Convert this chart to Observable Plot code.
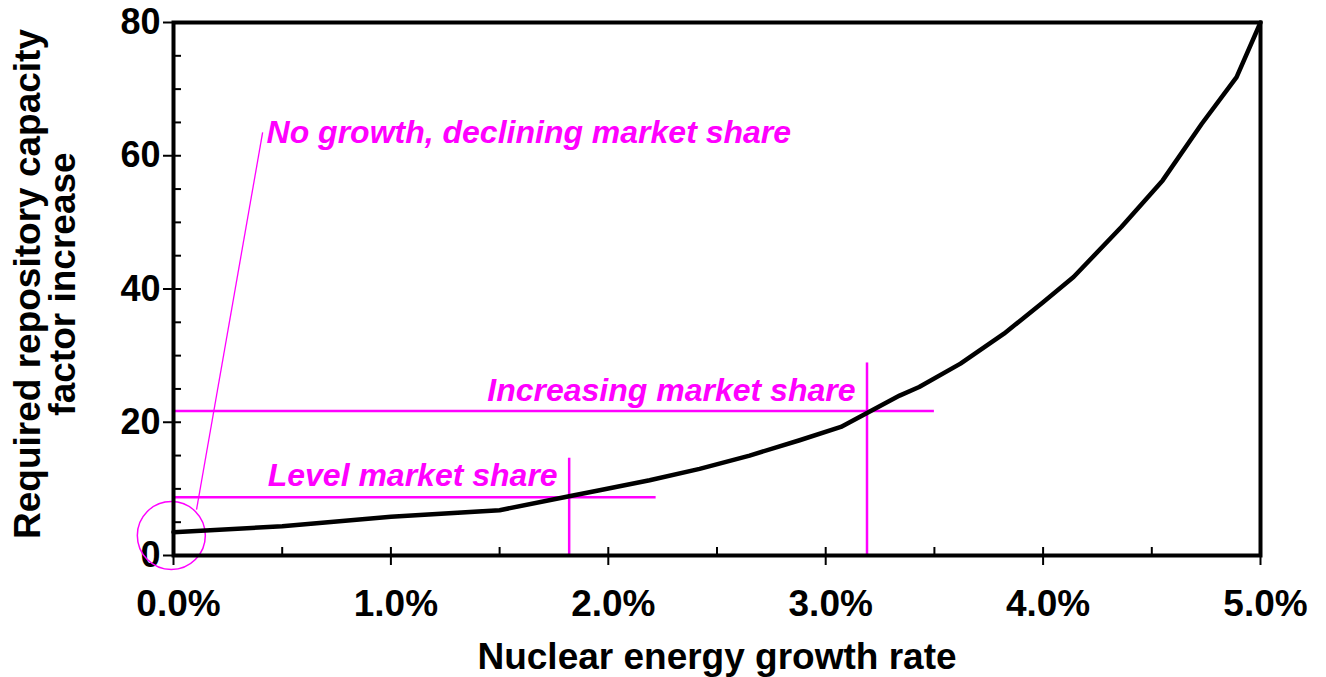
<!DOCTYPE html>
<html>
<head>
<meta charset="utf-8">
<script src="https://cdn.jsdelivr.net/npm/d3@7"></script>
<script src="https://cdn.jsdelivr.net/npm/@observablehq/plot@0.6"></script>
<style>
  html, body { margin: 0; padding: 0; background: #fff; }
  #chart { width: 1326px; height: 677px; }
</style>
</head>
<body>
<div id="chart"></div>
<script>
// Curve: required repository capacity factor vs. nuclear energy growth rate (%)
const growthRate = [0, 0.5, 1.0, 1.5, 1.82, 1.96, 2.19, 2.42, 2.65, 2.88, 3.07, 3.19, 3.34, 3.43, 3.62, 3.82, 4.0, 4.14, 4.36, 4.55, 4.73, 4.89, 5.0];
const capacityFactor = [3.5, 4.4, 5.8, 6.8, 8.9, 9.8, 11.3, 13.0, 15.0, 17.3, 19.3, 21.4, 24.0, 25.3, 28.8, 33.3, 38.0, 41.8, 49.3, 56.3, 64.8, 71.8, 80];

// Axis ticks
const xMajorTicks = [0, 1, 2, 3, 4, 5];
const xMinorTicks = [0.5, 1, 1.5, 2, 2.5, 3, 3.5, 4, 4.5];
const yMajorTicks = [0, 20, 40, 60, 80];
const yMinorTicks = [5, 10, 15, 20, 25, 30, 35, 40, 45, 50, 55, 60, 65, 70, 75];

const xTitle = "Nuclear energy growth rate";
const yTitle = "Required repository capacity\nfactor increase";

// Scenario markers (growth rate, factor) and label texts
const scenarioNames = ["Level market share", "Increasing market share"];
const scenarioRate = [1.82, 3.19];
const scenarioFactor = [8.75, 21.67];
const scenarioHLineEnd = [2.22, 3.5];
const scenarioVLineTop = [14.6, 28.9];
const scenarioLabelX = [1.767, 3.137];
const scenarioLabelY = [12.0, 24.8];

const noGrowthLabel = "No growth, declining market share";
const noGrowthPoint = {rate: -0.01, factor: 3.0};
const noGrowthLeader = {x1: 0.41, y1: 63.5, x2: 0.106, y2: 6.9};
const noGrowthLabelPos = {x: 0.428, y: 63.5};

const scen = scenarioNames.map((name, i) => ({
  name, rate: scenarioRate[i], factor: scenarioFactor[i],
  hEnd: scenarioHLineEnd[i], vTop: scenarioVLineTop[i],
  lx: scenarioLabelX[i], ly: scenarioLabelY[i]
}));
const curve = growthRate.map((g, i) => ({g, f: capacityFactor[i]}));

const MAG = "#ff00ff";
const FONT = "'Liberation Sans', Arial, Helvetica, sans-serif";

const chart = Plot.plot({
  width: 1326,
  height: 677,
  marginLeft: 173,
  marginRight: 66,
  marginTop: 22,
  marginBottom: 122,
  x: {domain: [0, 5]},
  y: {domain: [0, 80]},
  style: {fontFamily: FONT, fontWeight: "bold", background: "#fff", color: "#000", overflow: "visible"},
  marks: [
    Plot.axisY(yMajorTicks, {tickSize: 10, tickPadding: 3, fontSize: 36, label: null, strokeWidth: 2}),
    Plot.axisY(yMinorTicks, {tickSize: -8, text: null, label: null, strokeWidth: 2}),
    Plot.axisX(xMajorTicks, {tickSize: 10, text: null, label: null, strokeWidth: 2}),
    Plot.axisX(xMajorTicks, {tickSize: 0, tickPadding: 34, fontSize: 37, dx: 5, tickFormat: d => d.toFixed(1) + "%", label: null}),
    Plot.axisX(xMinorTicks, {tickSize: -8, text: null, label: null, strokeWidth: 2}),
    // scenario guide lines
    Plot.ruleY(scen, {y: "factor", x1: 0, x2: "hEnd", stroke: MAG, strokeWidth: 2.5}),
    Plot.ruleX(scen, {x: "rate", y1: 0, y2: "vTop", stroke: MAG, strokeWidth: 2.5}),
    Plot.text(scen, {x: "lx", y: "ly", text: "name", textAnchor: "end", fill: MAG, fontSize: 32, fontStyle: "italic", fontWeight: "bold"}),
    // no-growth marker
    Plot.dot([noGrowthPoint], {x: "rate", y: "factor", r: 34, stroke: MAG, strokeWidth: 1.5, fill: "none"}),
    Plot.link([noGrowthLeader], {x1: "x1", y1: "y1", x2: "x2", y2: "y2", stroke: MAG, strokeWidth: 1.3}),
    Plot.text([noGrowthLabel], {x: noGrowthLabelPos.x, y: noGrowthLabelPos.y, textAnchor: "start", fill: MAG, fontSize: 32, fontStyle: "italic", fontWeight: "bold"}),
    // curve
    Plot.line(curve, {x: "g", y: "f", stroke: "#000", strokeWidth: 4.5, strokeLinejoin: "round", strokeLinecap: "round"}),
    Plot.frame({stroke: "#000", strokeWidth: 4}),
    // axis titles
    Plot.text([xTitle], {frameAnchor: "bottom", dy: 102, fontSize: 37, fontWeight: "bold", lineAnchor: "middle", textAnchor: "middle"}),
    Plot.text([yTitle], {frameAnchor: "left", dx: -127, dy: -5, rotate: -90, fontSize: 37, fontWeight: "bold", lineAnchor: "middle", textAnchor: "middle", lineHeight: 0.94})
  ]
});
document.getElementById("chart").append(chart);
</script>
</body>
</html>
